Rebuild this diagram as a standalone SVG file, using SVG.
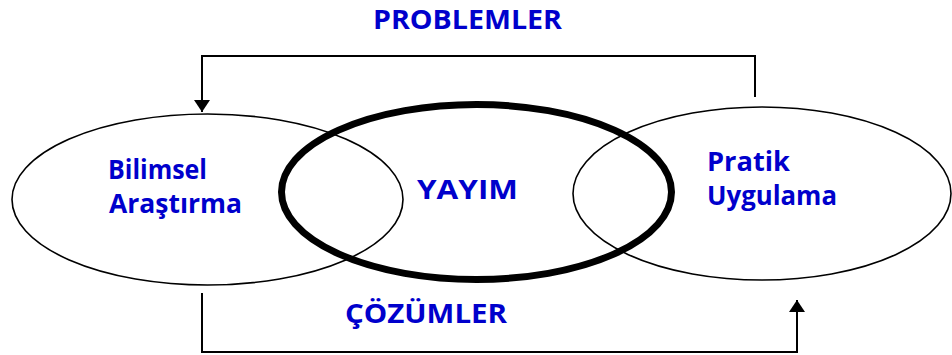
<svg xmlns="http://www.w3.org/2000/svg" width="952" height="355" viewBox="0 0 952 355">
  <style>
    .lbl { font-family: "Open Sans", "DejaVu Sans", sans-serif; font-weight: bold; font-size: 26px; fill: #0000cc; }
    .ell { fill: none; stroke: #000; stroke-width: 1.6; }
    .thick { fill: none; stroke: #000; stroke-width: 7; }
    .conn { fill: none; stroke: #000; stroke-width: 2; }
  </style>
  <defs>
    <marker id="arrow" markerUnits="userSpaceOnUse" markerWidth="13" markerHeight="17" refX="12" refY="8.5" orient="auto">
      <path d="M0,0.5 L12,8.5 L0,16.5 z" fill="#000"/>
    </marker>
  </defs>
  <rect x="0" y="0" width="952" height="355" fill="#fff"/>

  <g id="bilimsel-arastirma">
    <ellipse class="ell" cx="207.5" cy="199.5" rx="195.5" ry="85.5"/>
    <text class="lbl" x="108" y="179" textLength="99" lengthAdjust="spacingAndGlyphs">Bilimsel</text>
    <text class="lbl" x="109" y="213" textLength="133" lengthAdjust="spacingAndGlyphs">Araştırma</text>
  </g>

  <g id="pratik-uygulama">
    <ellipse class="ell" cx="762" cy="193.5" rx="189" ry="86.5"/>
    <text class="lbl" x="707" y="171" textLength="83" lengthAdjust="spacingAndGlyphs">Pratik</text>
    <text class="lbl" x="707" y="205" textLength="130" lengthAdjust="spacingAndGlyphs">Uygulama</text>
  </g>

  <g id="yayim">
    <ellipse class="thick" cx="476.5" cy="192" rx="195" ry="87.5"/>
    <text class="lbl" x="417" y="199" textLength="101" lengthAdjust="spacingAndGlyphs">YAYIM</text>
  </g>

  <g id="connectors">
    <polyline class="conn" points="755,97 755,56 202,56 202,112" marker-end="url(#arrow)"/>
    <text class="lbl" x="373" y="29" textLength="189" lengthAdjust="spacingAndGlyphs">PROBLEMLER</text>
    <polyline class="conn" points="202,293 202,352 797,352 797,300" marker-end="url(#arrow)"/>
    <text class="lbl" x="345" y="323" textLength="162" lengthAdjust="spacingAndGlyphs">ÇÖZÜMLER</text>
  </g>
</svg>
